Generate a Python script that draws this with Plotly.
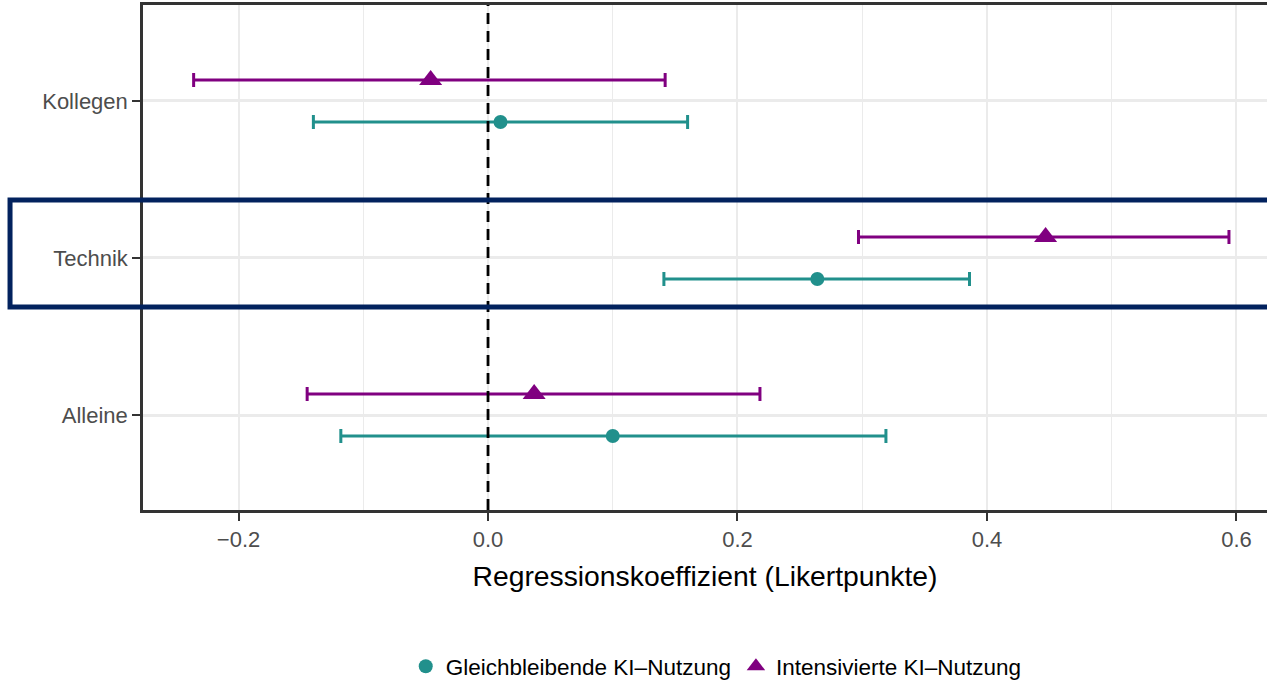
import plotly.graph_objects as go

categories = ["Alleine", "Technik", "Kollegen"]
cat_pos = [1, 2, 3]

series_names = ["Gleichbleibende KI\u2013Nutzung", "Intensivierte KI\u2013Nutzung"]

gleich_est = [0.100, 0.264, 0.010]
gleich_lo = [-0.118, 0.141, -0.140]
gleich_hi = [0.319, 0.386, 0.160]

intens_est = [0.037, 0.447, -0.046]
intens_lo = [-0.145, 0.297, -0.236]
intens_hi = [0.218, 0.594, 0.142]

x_ticks = [-0.2, 0.0, 0.2, 0.4, 0.6]
x_tick_text = ["\u22120.2", "0.0", "0.2", "0.4", "0.6"]

TEAL = "#21908C"
PURPLE = "#800080"
FONT = "Liberation Sans, Arial, sans-serif"
dodge = 0.134

fig = go.Figure()

def add_series(name, est, lo, hi, offset, color, symbol, msize):
    ys = [p + offset for p in cat_pos]
    fig.add_trace(go.Scatter(
        x=est, y=ys, mode="markers", name=name,
        marker=dict(color=color, symbol=symbol, size=msize),
        error_x=dict(type="data", symmetric=False,
                     array=[h - e for h, e in zip(hi, est)],
                     arrayminus=[e - l for e, l in zip(est, lo)],
                     color=color, thickness=3, width=7),
    ))

add_series(series_names[0], gleich_est, gleich_lo, gleich_hi, -dodge, TEAL, "circle", 14)
add_series(series_names[1], intens_est, intens_lo, intens_hi, dodge, PURPLE, "triangle-up", 20)

fig.add_vline(x=0, line=dict(color="black", width=2.8, dash="11px,7px"), layer="above")

fig.add_shape(type="rect", xref="paper", yref="paper",
              x0=-0.1183, x1=1.05, y0=0.402, y1=0.614,
              line=dict(color="#02225E", width=5), fillcolor="rgba(0,0,0,0)",
              layer="above")

fig.update_layout(
    width=1267, height=683,
    margin=dict(l=143, r=0, t=5, b=173, autoexpand=False),
    paper_bgcolor="white", plot_bgcolor="white",
    font=dict(family=FONT, color="black"),
    showlegend=True,
    legend=dict(orientation="h", x=0.51, xanchor="center",
                yref="container", y=0.024, yanchor="middle",
                font=dict(size=22.5, color="black"), itemwidth=30,
                tracegroupgap=0),
    xaxis=dict(
        range=[-0.2766, 0.6245],
        tickvals=x_ticks, ticktext=x_tick_text,
        tickfont=dict(size=22, color="#4D4D4D"),
        showgrid=True, gridcolor="#EBEBEB", gridwidth=2,
        minor=dict(dtick=0.1, tick0=-0.3, showgrid=True, gridcolor="#EBEBEB", gridwidth=1),
        showline=True, linecolor="#333333", linewidth=2.5, mirror=True,
        ticks="outside", ticklen=8, tickwidth=2, tickcolor="#333333",
        zeroline=False, automargin=False,
        title=dict(text="Regressionskoeffizient (Likertpunkte)", font=dict(size=28.3, color="black"), standoff=16),
    ),
    yaxis=dict(
        range=[0.395, 3.611],
        tickvals=cat_pos, ticktext=categories,
        tickfont=dict(size=22, color="#4D4D4D"),
        showgrid=True, gridcolor="#EBEBEB", gridwidth=2.5,
        showline=True, linecolor="#333333", linewidth=2.5, mirror=False,
        ticks="outside", ticklen=8, tickwidth=2, tickcolor="#333333",
        zeroline=False, automargin=False,
    ),
)

fig.write_html("out.html")
